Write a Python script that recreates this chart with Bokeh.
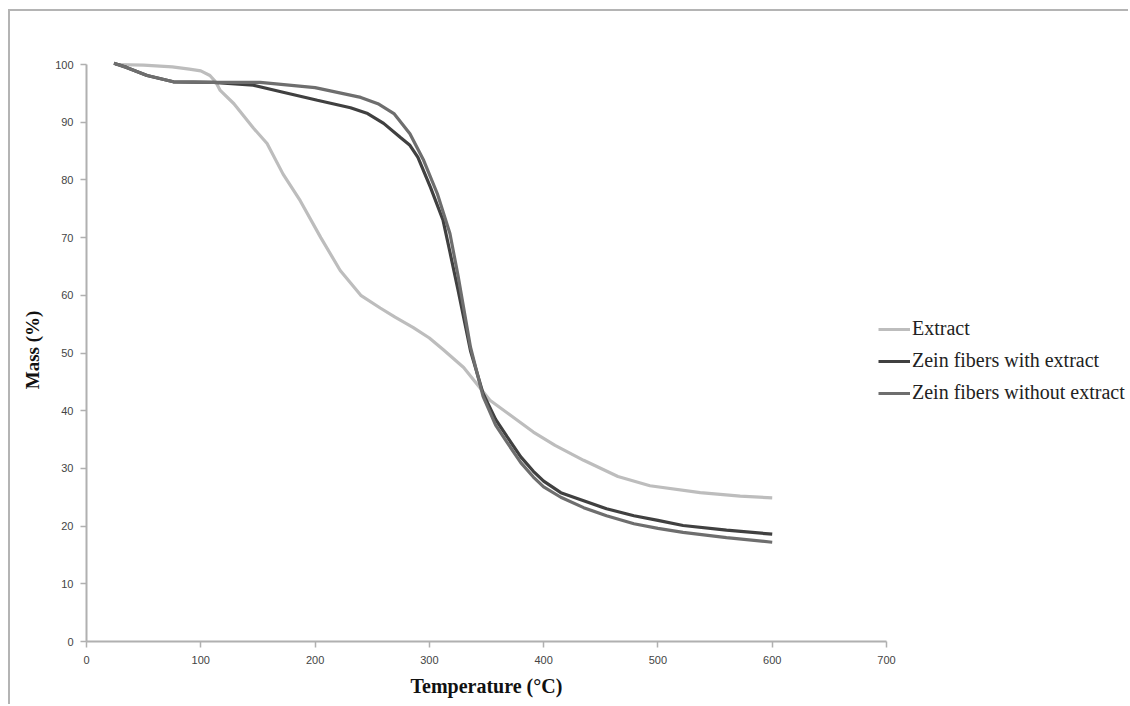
from bokeh.plotting import figure
from bokeh.models import Range1d, Legend, LegendItem, FixedTicker, Title
from bokeh.embed import file_html
from bokeh.resources import INLINE

# ---- data ----
extract_T = [25, 50, 75, 90, 100, 108, 113, 117, 129, 146, 158, 172, 187, 205, 222,
             240, 257, 270, 286, 300, 312, 330, 353, 371, 391, 410, 435, 465, 493, 537, 572, 600]
extract_M = [100, 99.9, 99.6, 99.2, 98.9, 98.1, 97, 95.5, 93.2, 89, 86.3, 81, 76.4, 70, 64.3,
             60, 57.8, 56.2, 54.4, 52.6, 50.6, 47.5, 41.8, 39.2, 36.3, 34, 31.4, 28.6, 27, 25.8, 25.2, 24.9]

with_T = [24, 35, 53, 76, 111, 146, 172, 202, 231, 246, 260, 275, 283, 290, 301, 312, 318, 325,
          336, 347, 358, 368, 380, 391, 400, 415, 435, 455, 479, 500, 522, 560, 600]
with_M = [100.2, 99.5, 98.1, 97, 96.9, 96.4, 95.2, 93.8, 92.5, 91.5, 89.8, 87.3, 86, 83.9, 78.7, 73, 67.5, 61,
          50.4, 43, 38.5, 35.5, 32, 29.5, 27.8, 25.8, 24.4, 23, 21.8, 21, 20.1, 19.3, 18.6]

without_T = [24, 35, 53, 76, 111, 152, 200, 240, 255, 269, 283, 295, 307, 318, 325, 336, 347, 358,
             368, 380, 391, 400, 415, 435, 455, 479, 500, 522, 560, 600]
without_M = [100.2, 99.5, 98.1, 97, 96.9, 96.9, 96, 94.3, 93.2, 91.5, 88, 83.4, 77.6, 70.7, 63.5, 51, 42.5, 37.5,
             34.5, 31, 28.5, 26.8, 25, 23.2, 21.8, 20.4, 19.6, 18.9, 18, 17.2]

series_names = ["Extract", "Zein fibers with extract", "Zein fibers without extract"]
x_ticks = [0, 100, 200, 300, 400, 500, 600, 700]
y_ticks = [0, 10, 20, 30, 40, 50, 60, 70, 80, 90, 100]

colors = ["#bdbdbd", "#404040", "#6e6e6e"]
markers = ["cross", "square", "triangle"]

# frame extends past 700 so the legend (which sits over the right end of the axis) is not clipped
p = figure(width=1120, height=695, output_backend="svg", toolbar_location=None,
           x_range=Range1d(0, 913.5), y_range=Range1d(0, 101.04),
           min_border_left=76, min_border_right=0, min_border_top=47, min_border_bottom=65)
p.margin = (9, 0, 0, 8)
p.styles = {"border-top": "2px solid #b4b4b4", "border-left": "2px solid #b4b4b4"}

p.grid.visible = False
p.outline_line_color = None
p.background_fill_color = "white"
p.border_fill_color = "white"

for ax in (p.xaxis[0], p.yaxis[0]):
    ax.axis_line_color = "#b0b0b0"
    ax.axis_line_width = 2
    ax.major_tick_line_color = "#b0b0b0"
    ax.major_tick_line_width = 1.5
    ax.major_tick_in = 0
    ax.major_tick_out = 6
    ax.minor_tick_line_color = None
    ax.major_label_text_font = "Liberation Sans"
    ax.major_label_text_font_size = "11px"
    ax.major_label_text_color = "#444444"

p.xaxis.ticker = FixedTicker(ticks=x_ticks)
p.yaxis.ticker = FixedTicker(ticks=y_ticks)
p.yaxis.bounds = (0, 100)
p.xaxis.bounds = (0, 700)
p.xaxis.major_label_standoff = 8
p.yaxis.major_label_standoff = 7

p.yaxis.axis_label = "Mass (%)"
p.yaxis.axis_label_text_font = "Liberation Serif"
p.yaxis.axis_label_text_font_style = "bold"
p.yaxis.axis_label_text_font_size = "19px"
p.yaxis.axis_label_text_color = "#111111"
p.yaxis.axis_label_standoff = 9

# x axis title, centred under the 0-700 span of the axis
xtitle = Title(text="Temperature (°C)", align="left", offset=324, standoff=12,
               text_font="Liberation Serif", text_font_style="bold", text_font_size="20px",
               text_color="#111111")
p.add_layout(xtitle, "below")

items = []
for name, T, M, c, mk in zip(series_names, [extract_T, with_T, without_T],
                             [extract_M, with_M, without_M], colors, markers):
    r = p.line(T, M, line_color=c, line_width=3.2)
    dummy = p.scatter(x=[], y=[], marker=mk, size=5, line_color=c, fill_color=c)
    items.append(LegendItem(label=name, renderers=[r, dummy]))

legend = Legend(items=items, location=(792, 237), orientation="vertical",
                label_text_font="Liberation Serif", label_text_font_size="20px",
                label_text_color="#222222", glyph_width=32, glyph_height=20,
                label_height=20, spacing=9, label_standoff=2, padding=0, margin=0,
                border_line_color=None, background_fill_alpha=0)
p.add_layout(legend, "center")

open("out.html", "w").write(file_html(p, INLINE))
